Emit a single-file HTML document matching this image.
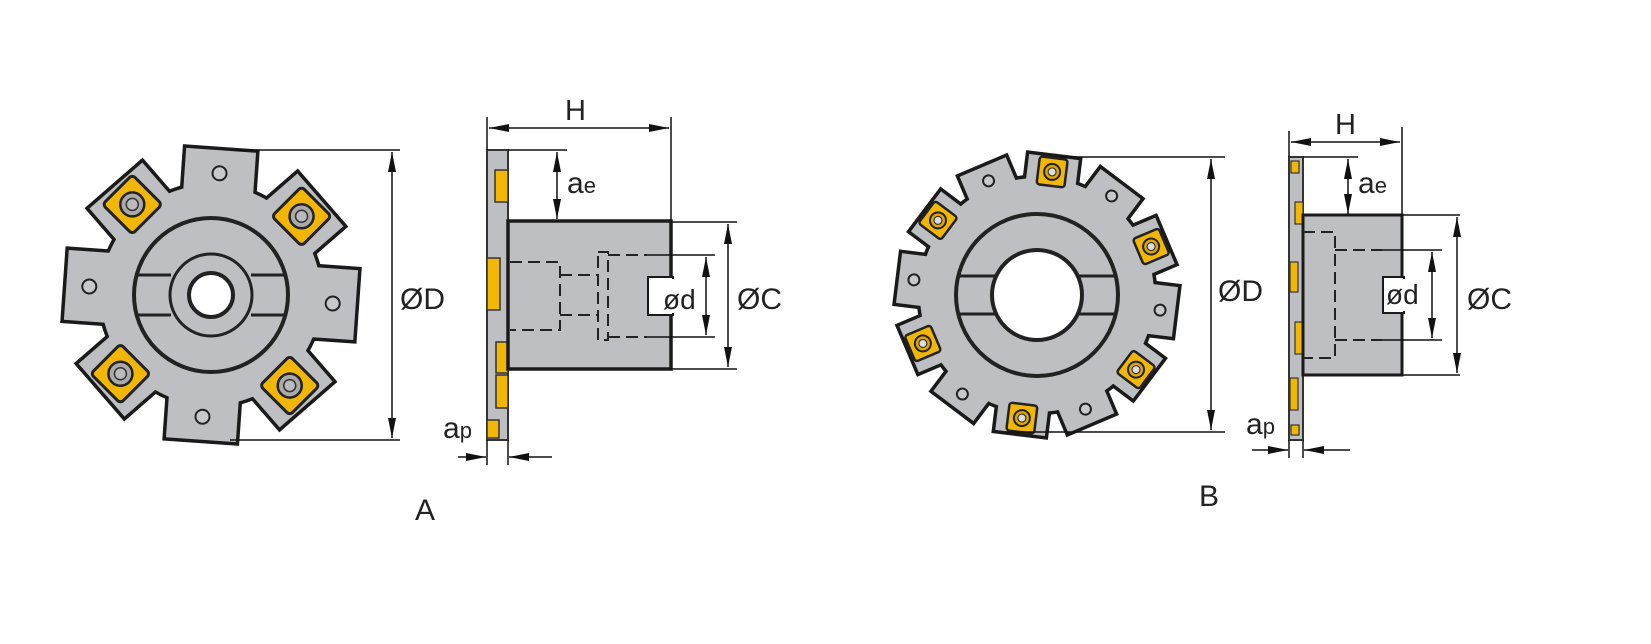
<!DOCTYPE html>
<html><head><meta charset="utf-8"><style>
html,body{margin:0;padding:0;background:#fff}
svg{display:block}
text{font-family:"Liberation Sans",sans-serif;fill:#222}
</style></head><body>
<svg width="1651" height="644" viewBox="0 0 1651 644" xmlns="http://www.w3.org/2000/svg">
<defs>
<marker id="ah" viewBox="0 0 20 8" refX="20" refY="4" markerWidth="20" markerHeight="8" markerUnits="userSpaceOnUse" orient="auto-start-reverse">
<path d="M0,0 L20,4 L0,8 Z" fill="#111"/></marker>
<g id="insA">
<rect x="-21" y="-21" width="42" height="42" rx="4" fill="#f2b705" stroke="#222" stroke-width="3"/>
<circle r="12" fill="#aaa" stroke="#222" stroke-width="2.5"/>
<circle r="6" fill="#bbb" stroke="#333" stroke-width="1.5"/>
</g>
<g id="insB">
<rect x="-14" y="-14" width="28" height="28" rx="3" fill="#f2b705" stroke="#222" stroke-width="2.5"/>
<circle r="8" fill="#e0a800" stroke="#222" stroke-width="2"/>
<circle r="4" fill="#ddd" stroke="#333" stroke-width="1.2"/>
</g>
</defs>

<!-- ===== Cutter A ===== -->
<g transform="translate(211,295)">
<g stroke="#1a1a1a" stroke-width="7" fill="#1a1a1a">
<circle r="110"/>
<rect x="-35" y="-145" width="70" height="60" transform="rotate(4)"/>
<rect x="-35" y="-145" width="70" height="60" transform="rotate(49)"/>
<rect x="-35" y="-145" width="70" height="60" transform="rotate(94)"/>
<rect x="-35" y="-145" width="70" height="60" transform="rotate(139)"/>
<rect x="-35" y="-145" width="70" height="60" transform="rotate(184)"/>
<rect x="-35" y="-145" width="70" height="60" transform="rotate(229)"/>
<rect x="-35" y="-145" width="70" height="60" transform="rotate(274)"/>
<rect x="-35" y="-145" width="70" height="60" transform="rotate(319)"/>
</g>
<g fill="#bebfc2">
<circle r="110"/>
<rect x="-35" y="-145" width="70" height="60" transform="rotate(4)"/>
<rect x="-35" y="-145" width="70" height="60" transform="rotate(49)"/>
<rect x="-35" y="-145" width="70" height="60" transform="rotate(94)"/>
<rect x="-35" y="-145" width="70" height="60" transform="rotate(139)"/>
<rect x="-35" y="-145" width="70" height="60" transform="rotate(184)"/>
<rect x="-35" y="-145" width="70" height="60" transform="rotate(229)"/>
<rect x="-35" y="-145" width="70" height="60" transform="rotate(274)"/>
<rect x="-35" y="-145" width="70" height="60" transform="rotate(319)"/>
</g>
<g fill="#c8c9cc" stroke="#222" stroke-width="2">
<circle cx="0" cy="-122" r="7" transform="rotate(4)"/>
<circle cx="0" cy="-122" r="7" transform="rotate(94)"/>
<circle cx="0" cy="-122" r="7" transform="rotate(184)"/>
<circle cx="0" cy="-122" r="7" transform="rotate(274)"/>
</g>
<use href="#insA" transform="rotate(49) translate(0,-120) rotate(-4)"/>
<use href="#insA" transform="rotate(139) translate(0,-120) rotate(-4)"/>
<use href="#insA" transform="rotate(229) translate(0,-120) rotate(-4)"/>
<use href="#insA" transform="rotate(319) translate(0,-120) rotate(-4)"/>
<circle r="77" fill="none" stroke="#222" stroke-width="4"/>
<circle r="41" fill="none" stroke="#222" stroke-width="3"/>
<line x1="-76" y1="-20" x2="-40" y2="-20" stroke="#222" stroke-width="3"/>
<line x1="-76" y1="20" x2="-40" y2="20" stroke="#222" stroke-width="3"/>
<line x1="40" y1="-20" x2="76" y2="-20" stroke="#222" stroke-width="3"/>
<line x1="40" y1="20" x2="76" y2="20" stroke="#222" stroke-width="3"/>
<circle r="22" fill="#fff" stroke="#222" stroke-width="4"/>
</g>

<!-- ØD A -->
<g stroke="#111" stroke-width="1.5" fill="none">
<line x1="235" y1="150" x2="400" y2="150"/>
<line x1="230" y1="440" x2="400" y2="440"/>
<line x1="392" y1="152" x2="392" y2="438" marker-start="url(#ah)" marker-end="url(#ah)"/>
</g>
<text x="400" y="309" font-size="30">ØD</text>

<!-- ===== Side A ===== -->
<rect x="487" y="150" width="21" height="290" fill="#bebfc2" stroke="#333" stroke-width="2"/>
<g fill="#f2b705" stroke="#333" stroke-width="1.5">
<rect x="495" y="170" width="13" height="32"/>
<rect x="487" y="258" width="13" height="52"/>
<rect x="496" y="342" width="12" height="31"/>
<rect x="496" y="375" width="12" height="33"/>
<rect x="487" y="420" width="12" height="18"/>
</g>
<rect x="508" y="221" width="163" height="148" fill="#bebfc2" stroke="#1a1a1a" stroke-width="3.5"/>
<rect x="648" y="277" width="25" height="38" fill="#fff" stroke="#1a1a1a" stroke-width="2"/>
<rect x="671" y="279" width="4" height="34" fill="#fff"/>
<g stroke="#222" stroke-width="2" fill="none" stroke-dasharray="12,6">
<path d="M510,262 H560 V330 H510"/>
<path d="M560,275 H598 M560,315 H598"/>
<rect x="598" y="252" width="10" height="88"/>
<path d="M608,255 H647 M608,337 H647"/>
</g>
<!-- dims A side -->
<g stroke="#111" stroke-width="1.5" fill="none">
<line x1="487" y1="117" x2="487" y2="150"/>
<line x1="671" y1="117" x2="671" y2="220"/>
<line x1="489" y1="128" x2="669" y2="128" marker-start="url(#ah)" marker-end="url(#ah)"/>
<line x1="508" y1="150" x2="567" y2="150"/>
<line x1="557" y1="152" x2="557" y2="219" marker-start="url(#ah)" marker-end="url(#ah)"/>
<line x1="671" y1="222" x2="737" y2="222"/>
<line x1="671" y1="369" x2="737" y2="369"/>
<line x1="728" y1="224" x2="728" y2="367" marker-start="url(#ah)" marker-end="url(#ah)"/>
<line x1="647" y1="255" x2="715" y2="255"/>
<line x1="647" y1="337" x2="715" y2="337"/>
<line x1="706" y1="257" x2="706" y2="335" marker-start="url(#ah)" marker-end="url(#ah)"/>
<line x1="487" y1="440" x2="487" y2="465"/>
<line x1="508" y1="440" x2="508" y2="465"/>
<line x1="458" y1="457" x2="486" y2="457" marker-end="url(#ah)"/>
<line x1="552" y1="457" x2="509" y2="457" marker-end="url(#ah)"/>
</g>
<text x="565" y="120" font-size="29">H</text>
<text x="567" y="193" font-size="30">a<tspan font-size="22">e</tspan></text>
<text x="663" y="309" font-size="28">ød</text>
<text x="737" y="309" font-size="30">ØC</text>
<text x="443" y="438" font-size="30">a<tspan font-size="22">p</tspan></text>
<text x="415" y="520" font-size="30">A</text>

<!-- ===== Cutter B ===== -->
<g transform="translate(1037,295)">
<g stroke="#1a1a1a" stroke-width="7" fill="#1a1a1a">
<circle r="117"/>
<g id="lobesB">
<rect x="-25" y="-139" width="50" height="40" transform="rotate(7)"/>
<rect x="-25" y="-139" width="50" height="40" transform="rotate(37)"/>
<rect x="-25" y="-139" width="50" height="40" transform="rotate(67)"/>
<rect x="-25" y="-139" width="50" height="40" transform="rotate(97)"/>
<rect x="-25" y="-139" width="50" height="40" transform="rotate(127)"/>
<rect x="-25" y="-139" width="50" height="40" transform="rotate(157)"/>
<rect x="-25" y="-139" width="50" height="40" transform="rotate(187)"/>
<rect x="-25" y="-139" width="50" height="40" transform="rotate(217)"/>
<rect x="-25" y="-139" width="50" height="40" transform="rotate(247)"/>
<rect x="-25" y="-139" width="50" height="40" transform="rotate(277)"/>
<rect x="-25" y="-139" width="50" height="40" transform="rotate(307)"/>
<rect x="-25" y="-139" width="50" height="40" transform="rotate(337)"/>
</g>
</g>
<g fill="#bebfc2">
<circle r="117"/>
<use href="#lobesB"/>
</g>
<g fill="#c8c9cc" stroke="#222" stroke-width="2">
<circle cx="0" cy="-124" r="5.5" transform="rotate(37)"/>
<circle cx="0" cy="-124" r="5.5" transform="rotate(97)"/>
<circle cx="0" cy="-124" r="5.5" transform="rotate(157)"/>
<circle cx="0" cy="-124" r="5.5" transform="rotate(217)"/>
<circle cx="0" cy="-124" r="5.5" transform="rotate(277)"/>
<circle cx="0" cy="-124" r="5.5" transform="rotate(337)"/>
</g>
<use href="#insB" transform="rotate(7) translate(0,-124)"/>
<use href="#insB" transform="rotate(67) translate(0,-124)"/>
<use href="#insB" transform="rotate(127) translate(0,-124)"/>
<use href="#insB" transform="rotate(187) translate(0,-124)"/>
<use href="#insB" transform="rotate(247) translate(0,-124)"/>
<use href="#insB" transform="rotate(307) translate(0,-124)"/>
<circle r="81" fill="none" stroke="#222" stroke-width="4"/>
<line x1="-80" y1="-19" x2="-42" y2="-19" stroke="#222" stroke-width="3"/>
<line x1="-80" y1="19" x2="-42" y2="19" stroke="#222" stroke-width="3"/>
<line x1="42" y1="-19" x2="80" y2="-19" stroke="#222" stroke-width="3"/>
<line x1="42" y1="19" x2="80" y2="19" stroke="#222" stroke-width="3"/>
<circle r="45" fill="#fff" stroke="#222" stroke-width="4"/>
</g>
<!-- ØD B -->
<g stroke="#111" stroke-width="1.5" fill="none">
<line x1="1060" y1="157" x2="1225" y2="157"/>
<line x1="1005" y1="432" x2="1225" y2="432"/>
<line x1="1211" y1="159" x2="1211" y2="430" marker-start="url(#ah)" marker-end="url(#ah)"/>
</g>
<text x="1218" y="301" font-size="30">ØD</text>

<!-- ===== Side B ===== -->
<rect x="1289" y="157" width="14" height="283" fill="#bebfc2" stroke="#333" stroke-width="2"/>
<g fill="#f2b705" stroke="#333" stroke-width="1.2">
<rect x="1291" y="161" width="8" height="12"/>
<rect x="1295" y="202" width="8" height="22"/>
<rect x="1290" y="262" width="8" height="30"/>
<rect x="1295" y="322" width="8" height="32"/>
<rect x="1290" y="378" width="8" height="32"/>
<rect x="1291" y="425" width="8" height="10"/>
</g>
<rect x="1303" y="215" width="99" height="160" fill="#bebfc2" stroke="#1a1a1a" stroke-width="3"/>
<rect x="1383" y="277" width="21" height="36" fill="#fff" stroke="#1a1a1a" stroke-width="2"/>
<rect x="1402" y="279" width="4" height="32" fill="#fff"/>
<g stroke="#222" stroke-width="2" fill="none" stroke-dasharray="12,6">
<path d="M1303,232 H1335 V358 H1303"/>
<path d="M1335,250 H1382 M1335,340 H1382"/>
</g>
<g stroke="#111" stroke-width="1.5" fill="none">
<line x1="1289" y1="131" x2="1289" y2="157"/>
<line x1="1402" y1="127" x2="1402" y2="215"/>
<line x1="1291" y1="142" x2="1400" y2="142" marker-start="url(#ah)" marker-end="url(#ah)"/>
<line x1="1303" y1="157" x2="1358" y2="157"/>
<line x1="1348" y1="159" x2="1348" y2="214" marker-start="url(#ah)" marker-end="url(#ah)"/>
<line x1="1402" y1="215" x2="1460" y2="215"/>
<line x1="1402" y1="375" x2="1460" y2="375"/>
<line x1="1457" y1="217" x2="1457" y2="373" marker-start="url(#ah)" marker-end="url(#ah)"/>
<line x1="1382" y1="250" x2="1442" y2="250"/>
<line x1="1382" y1="340" x2="1442" y2="340"/>
<line x1="1432" y1="252" x2="1432" y2="338" marker-start="url(#ah)" marker-end="url(#ah)"/>
<line x1="1289" y1="440" x2="1289" y2="458"/>
<line x1="1303" y1="440" x2="1303" y2="458"/>
<line x1="1252" y1="450" x2="1288" y2="450" marker-end="url(#ah)"/>
<line x1="1350" y1="450" x2="1304" y2="450" marker-end="url(#ah)"/>
</g>
<text x="1335" y="134" font-size="29">H</text>
<text x="1358" y="193" font-size="30">a<tspan font-size="22">e</tspan></text>
<text x="1386" y="304" font-size="28">ød</text>
<text x="1467" y="309" font-size="30">ØC</text>
<text x="1246" y="434" font-size="30">a<tspan font-size="22">p</tspan></text>
<text x="1199" y="506" font-size="30">B</text>
</svg>
</body></html>
